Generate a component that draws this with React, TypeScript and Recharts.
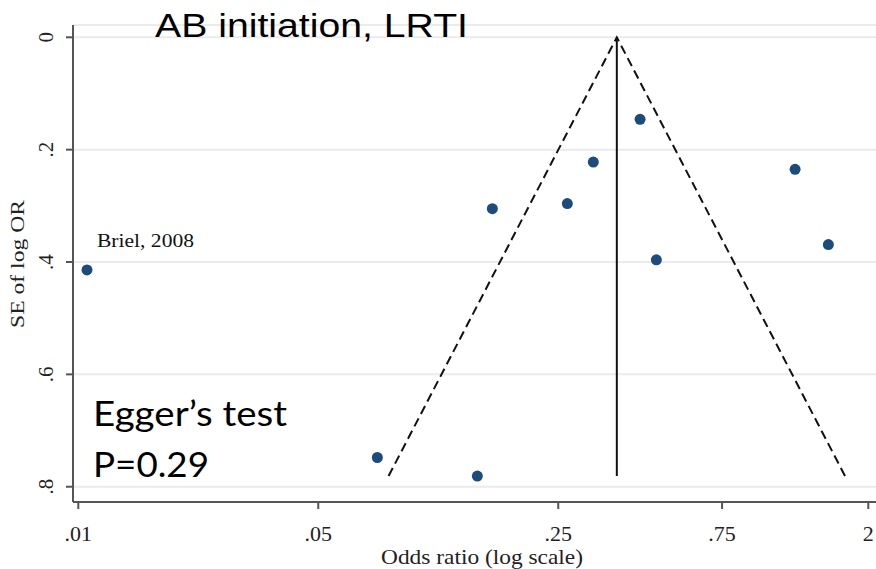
import React from "react";
import { ScatterChart, Scatter, XAxis, YAxis, CartesianGrid } from "recharts";

// study estimates
const studyNames = ["Briel, 2008", "", "", "", "", "", "", "", "", ""];
const oddsRatios = [0.0106, 0.0743, 0.1453, 0.1607, 0.2657, 0.3163, 0.4328, 0.4828, 1.224, 1.53];
const seLogOR = [0.414, 0.748, 0.781, 0.305, 0.296, 0.222, 0.146, 0.396, 0.235, 0.369];
const pooledOR = 0.3703;

const xTicks = [0.01, 0.05, 0.25, 0.75, 2];
const yTicks = [0, 0.2, 0.4, 0.6, 0.8];

const points = oddsRatios.map((or, i) => ({ or, se: seLogOR[i], study: studyNames[i] }));
const maxSE = Math.max(...seLogOR);
const funnel = [
  { or: pooledOR * Math.exp(-1.96 * maxSE), se: maxSE },
  { or: pooledOR, se: 0 },
  { or: pooledOR * Math.exp(1.96 * maxSE), se: maxSE },
];
const pooledLine = [
  { or: pooledOR, se: 0 },
  { or: pooledOR, se: maxSE },
];

const serif = '"Liberation Serif", "Times New Roman", serif';
const axisColor = "#555";

const fmt = (v: number) => String(v).replace(/^0\./, ".");

const XTick = (props: any) => {
  const { x, payload } = props;
  return (
    <text x={x} y={541} textAnchor="middle" fontFamily={serif} fontSize={22} fill="#222">
      {fmt(payload.value)}
    </text>
  );
};

const YTick = (props: any) => {
  const { y, payload } = props;
  return (
    <text
      x={53}
      y={y}
      transform={`rotate(-90, 53, ${y})`}
      textAnchor="middle"
      fontFamily={serif}
      fontSize={21}
      fill="#222"
    >
      {fmt(payload.value)}
    </text>
  );
};

const Dot = (props: any) => {
  const { cx, cy } = props;
  const study = props.payload?.study ?? props.study;
  return (
    <g>
      <circle cx={cx} cy={cy} r={5.5} fill="#1c4b7c" />
      {study ? (
        <text x={cx + 10} y={cy - 22.5} fontFamily={serif} fontSize={18} textLength={97} lengthAdjust="spacingAndGlyphs" fill="#111">
          {study}
        </text>
      ) : null}
    </g>
  );
};

const NoShape = () => <g />;

export default function App() {
  return (
    <div style={{ position: "absolute", left: 0, top: 0, width: 876, height: 569, background: "#fff" }}>
      <ScatterChart width={876} height={569} margin={{ top: 25, right: 0, bottom: 0, left: 0 }}>
        <CartesianGrid vertical={false} stroke="#ebebeb" strokeWidth={2} />
        <XAxis
          type="number"
          dataKey="or"
          scale="log"
          domain={[0.009651, 2.106]}
          allowDataOverflow
          ticks={xTicks}
          height={67}
          tickSize={7}
          axisLine={{ stroke: axisColor, strokeWidth: 2 }}
          tickLine={{ stroke: axisColor, strokeWidth: 2 }}
          tick={<XTick />}
        />
        <YAxis
          type="number"
          dataKey="se"
          reversed
          domain={[-0.0219, 0.8272]}
          allowDataOverflow
          ticks={yTicks}
          width={73}
          tickSize={7}
          axisLine={{ stroke: axisColor, strokeWidth: 2 }}
          tickLine={{ stroke: axisColor, strokeWidth: 2 }}
          tick={<YTick />}
        />
        <Scatter
          data={funnel}
          shape={<NoShape />}
          line={{ stroke: "#111", strokeWidth: 2, strokeDasharray: "9 5" }}
          isAnimationActive={false}
        />
        <Scatter
          data={pooledLine}
          shape={<NoShape />}
          line={{ stroke: "#111", strokeWidth: 2 }}
          isAnimationActive={false}
        />
        <Scatter data={points} shape={<Dot />} isAnimationActive={false} />
      </ScatterChart>
      <svg width={876} height={569} style={{ position: "absolute", left: 0, top: 0, pointerEvents: "none" }}>
        <text x={155} y={37} fontFamily='"Liberation Sans", Arial, sans-serif' fontSize={34} textLength={313} lengthAdjust="spacingAndGlyphs" fill="#000">
          AB initiation, LRTI
        </text>
        <text x={93} y={426} fontFamily='Lato, "Open Sans", sans-serif' fontSize={34} textLength={194} lengthAdjust="spacingAndGlyphs" fill="#000">
          Egger’s test
        </text>
        <text x={93} y={477} fontFamily='Lato, "Open Sans", sans-serif' fontSize={34} textLength={116} lengthAdjust="spacingAndGlyphs" fill="#000">
          P=0.29
        </text>
        <text x={482} y={564} textAnchor="middle" fontFamily={serif} fontSize={21} textLength={202} lengthAdjust="spacingAndGlyphs" fill="#222">
          Odds ratio (log scale)
        </text>
        <text
          x={24}
          y={264}
          transform="rotate(-90, 24, 264)"
          textAnchor="middle"
          fontFamily={serif}
          fontSize={19}
          textLength={128}
          lengthAdjust="spacingAndGlyphs"
          fill="#222"
        >
          SE of log OR
        </text>
      </svg>
    </div>
  );
}
